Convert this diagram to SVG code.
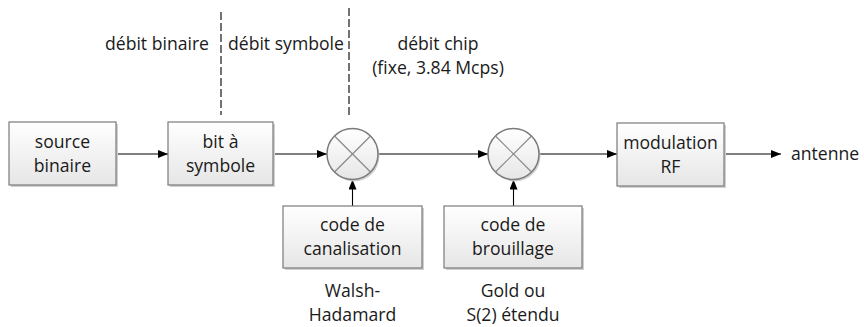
<svg xmlns="http://www.w3.org/2000/svg" width="864" height="327" viewBox="0 0 864 327">
<style>
text{font-family:"Open Sans","Liberation Sans",sans-serif;font-size:17.6px;fill:#1a1a1a}
.c{text-anchor:middle}
.box{fill:url(#g);stroke:#7a7a7a;stroke-width:1.2}
.sh{fill:#d0d0d0}
.mix{fill:url(#g);stroke:#7a7a7a;stroke-width:1.5}
.x{stroke:#8a8a8a;stroke-width:1.2}
.ln{stroke:#000;stroke-width:1.1;fill:none}
.dash{stroke:#000;stroke-width:1.1;stroke-dasharray:8,3;fill:none}
</style>
<defs>
<linearGradient id="g" x1="0" y1="0" x2="0" y2="1">
<stop offset="0" stop-color="#ffffff"/>
<stop offset="1" stop-color="#e6e6e6"/>
</linearGradient>
<marker id="a" viewBox="0 0 10 8" refX="10" refY="4" markerWidth="10" markerHeight="8" markerUnits="userSpaceOnUse" orient="auto">
<path d="M0,0L10,4L0,8Z" fill="#000"/>
</marker>
</defs>

<g id="dashes">
<line class="dash" x1="221" y1="12" x2="221" y2="115"/>
<line class="dash" x1="349" y1="8" x2="349" y2="115"/>
</g>

<g id="labels-top">
<text x="209" y="50" text-anchor="end">débit binaire</text>
<text x="228" y="50">débit symbole</text>
<text class="c" x="438" y="50">débit chip</text>
<text class="c" x="438" y="74">(fixe, 3.84 Mcps)</text>
</g>

<g id="connectors">
<line class="ln" x1="116" y1="154" x2="168" y2="154" marker-end="url(#a)"/>
<line class="ln" x1="273" y1="154" x2="327" y2="154" marker-end="url(#a)"/>
<line class="ln" x1="378" y1="154" x2="488" y2="154" marker-end="url(#a)"/>
<line class="ln" x1="539" y1="154" x2="617" y2="154" marker-end="url(#a)"/>
<line class="ln" x1="724" y1="154" x2="781" y2="154" marker-end="url(#a)"/>
<line class="ln" x1="352.5" y1="206" x2="352.5" y2="179.5" marker-end="url(#a)"/>
<line class="ln" x1="513.5" y1="206" x2="513.5" y2="179.5" marker-end="url(#a)"/>
</g>

<g id="source">
<rect class="sh" x="11" y="124" width="107" height="63"/>
<rect class="box" x="9" y="122" width="107" height="63"/>
<text class="c" x="62.5" y="148">source</text>
<text class="c" x="62.5" y="172">binaire</text>
</g>

<g id="bitsym">
<rect class="sh" x="170" y="124" width="105" height="63"/>
<rect class="box" x="168" y="122" width="105" height="63"/>
<text class="c" x="220.5" y="148">bit à</text>
<text class="c" x="220.5" y="172">symbole</text>
</g>

<g id="mix1">
<circle class="sh" cx="354" cy="156" r="25.5"/>
<circle class="mix" cx="352.5" cy="154" r="25.5"/>
<line class="x" x1="334.5" y1="136" x2="370.5" y2="172"/>
<line class="x" x1="370.5" y1="136" x2="334.5" y2="172"/>
</g>

<g id="mix2">
<circle class="sh" cx="515" cy="156" r="25.5"/>
<circle class="mix" cx="513.5" cy="154" r="25.5"/>
<line class="x" x1="495.5" y1="136" x2="531.5" y2="172"/>
<line class="x" x1="531.5" y1="136" x2="495.5" y2="172"/>
</g>

<g id="modrf">
<rect class="sh" x="619" y="125" width="107" height="63"/>
<rect class="box" x="617" y="123" width="107" height="63"/>
<text class="c" x="670.5" y="149">modulation</text>
<text class="c" x="670.5" y="173">RF</text>
</g>

<g id="antenne">
<text x="791" y="160">antenne</text>
</g>

<g id="canal">
<rect class="sh" x="285" y="208" width="139" height="62"/>
<rect class="box" x="283" y="206" width="139" height="62"/>
<text class="c" x="352.5" y="231">code de</text>
<text class="c" x="352.5" y="255">canalisation</text>
<text class="c" x="352.5" y="297">Walsh-</text>
<text class="c" x="352.5" y="321">Hadamard</text>
</g>

<g id="brouil">
<rect class="sh" x="446" y="208" width="138" height="62"/>
<rect class="box" x="444" y="206" width="138" height="62"/>
<text class="c" x="513" y="231">code de</text>
<text class="c" x="513" y="255">brouillage</text>
<text class="c" x="513" y="297">Gold ou</text>
<text class="c" x="513" y="321">S(2) étendu</text>
</g>
</svg>
